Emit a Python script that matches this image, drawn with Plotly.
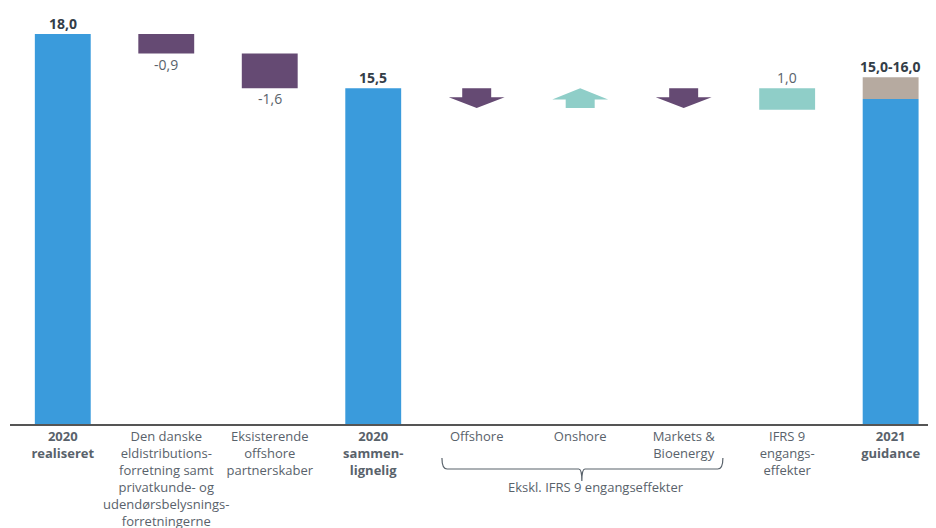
import plotly.graph_objects as go

# ---- data ----
category_labels = [
    "<b>2020</b><br><b>realiseret</b>",
    "Den danske<br>eldistributions-<br>forretning samt<br>privatkunde- og<br>udendørsbelysnings-<br>forretningerne",
    "Eksisterende<br>offshore<br>partnerskaber",
    "<b>2020</b><br><b>sammen-</b><br><b>lignelig</b>",
    "Offshore",
    "Onshore",
    "Markets &<br>Bioenergy",
    "IFRS 9<br>engangs-<br>effekter",
    "<b>2021</b><br><b>guidance</b>",
]
realised_2020 = 18.0
divestment_changes = [-0.9, -1.6]
divestment_labels = ["-0,9", "-1,6"]
comparable_2020 = 15.5
arrow_directions = ["down", "up", "down"]  # Offshore, Onshore, Markets & Bioenergy
ifrs9_effect = 1.0
guidance_low = 15.0
guidance_high = 16.0
bracket_label = "Ekskl. IFRS 9 engangseffekter"

# ---- styling ----
BLUE = "#3A9BDC"
PURPLE = "#654A73"
TEAL = "#8FCEC8"
TAN = "#B6AAA0"
DARK = "#333D47"
GRAY = "#59626B"
FONT = "Open Sans"
W = 0.54

x = list(range(len(category_labels)))
fig = go.Figure()

# Totals (blue)
fig.add_trace(go.Bar(x=[0, 3, 8], y=[realised_2020, comparable_2020, guidance_low],
                     base=[0, 0, 0], width=W, marker=dict(color=BLUE, line_width=0),
                     hoverinfo="skip"))
# Divestments (purple floating)
level = realised_2020
bases, heights = [], []
for d in divestment_changes:
    bases.append(level + d)
    heights.append(-d)
    level += d
fig.add_trace(go.Bar(x=[1, 2], y=heights, base=bases, width=W,
                     marker=dict(color=PURPLE, line_width=0), hoverinfo="skip"))
# IFRS 9 (teal)
fig.add_trace(go.Bar(x=[7], y=[ifrs9_effect], base=[comparable_2020 - ifrs9_effect], width=W,
                     marker=dict(color=TEAL, line_width=0), hoverinfo="skip"))
# Guidance range (tan)
fig.add_trace(go.Bar(x=[8], y=[guidance_high - guidance_low], base=[guidance_low], width=W,
                     marker=dict(color=TAN, line_width=0), hoverinfo="skip"))

shapes = []
# arrows
depth = 0.92
for i, d in enumerate(arrow_directions):
    cx = 4 + i
    top = comparable_2020
    bot = comparable_2020 - depth
    sh, hh = 0.14, W / 2
    if d == "down":
        neck = top - 0.42
        path = (f"M {cx-sh},{top} L {cx+sh},{top} L {cx+sh},{neck} L {cx+hh},{neck} "
                f"L {cx},{bot} L {cx-hh},{neck} L {cx-sh},{neck} Z")
        col = PURPLE
    else:
        neck = top - 0.52
        path = (f"M {cx},{top} L {cx+hh},{neck} L {cx+sh},{neck} L {cx+sh},{bot} "
                f"L {cx-sh},{bot} L {cx-sh},{neck} L {cx-hh},{neck} Z")
        col = TEAL
    shapes.append(dict(type="path", path=path, xref="x", yref="y",
                       fillcolor=col, line=dict(width=0)))

# bracket under arrow categories
bx0, bx1, bm = 3.664, 6.379, 5.016
yt, yb, ym = -0.082, -0.1087, -0.1377
r = 0.05
bracket = (f"M {bx0},{yt} Q {bx0},{yb} {bx0+r},{yb} L {bm-0.03},{yb} Q {bm},{yb} {bm},{ym} "
           f"Q {bm},{yb} {bm+0.03},{yb} L {bx1-r},{yb} Q {bx1},{yb} {bx1},{yt}")
shapes.append(dict(type="path", path=bracket, xref="x", yref="paper",
                   line=dict(color=GRAY, width=1.2)))

annotations = []
def lab(xv, yv, text, above=True, bold=False, color=DARK):
    annotations.append(dict(x=xv, y=yv, xref="x", yref="y",
                            text=f"<b>{text}</b>" if bold else text,
                            showarrow=False, yanchor="bottom" if above else "top",
                            yshift=-1 if above else 1,
                            font=dict(family=FONT, size=14, color=color)))

lab(0, realised_2020, "18,0", bold=True)
lvl = realised_2020
for i, (d, t) in enumerate(zip(divestment_changes, divestment_labels)):
    lvl += d
    lab(1 + i, lvl, t, above=False, color=GRAY)
lab(3, comparable_2020, "15,5", bold=True)
lab(7, comparable_2020, "1,0", color=GRAY)
lab(8, guidance_high, "15,0-16,0", bold=True)

annotations.append(dict(x=5.15, y=-0.152, xref="x", yref="paper", text=bracket_label,
                        yanchor="middle", showarrow=False,
                        font=dict(family=FONT, size=13, color=GRAY)))

fig.update_layout(
    width=928, height=520,
    margin=dict(l=2, r=5, t=2, b=104),
    plot_bgcolor="white", paper_bgcolor="white",
    showlegend=False, barmode="overlay",
    shapes=shapes, annotations=annotations,
    font=dict(family=FONT, size=13, color=GRAY),
    xaxis=dict(range=[-0.51, 8.39], tickmode="array", tickvals=x, ticktext=category_labels,
               tickangle=0, automargin=False,
               showline=True, linecolor="#555555", linewidth=1.5, showgrid=False,
               zeroline=False, ticks="", tickfont=dict(family=FONT, size=13, color=GRAY)),
    yaxis=dict(range=[0, 19.108], visible=False, showgrid=False, zeroline=False),
)

fig.write_html("out.html")
